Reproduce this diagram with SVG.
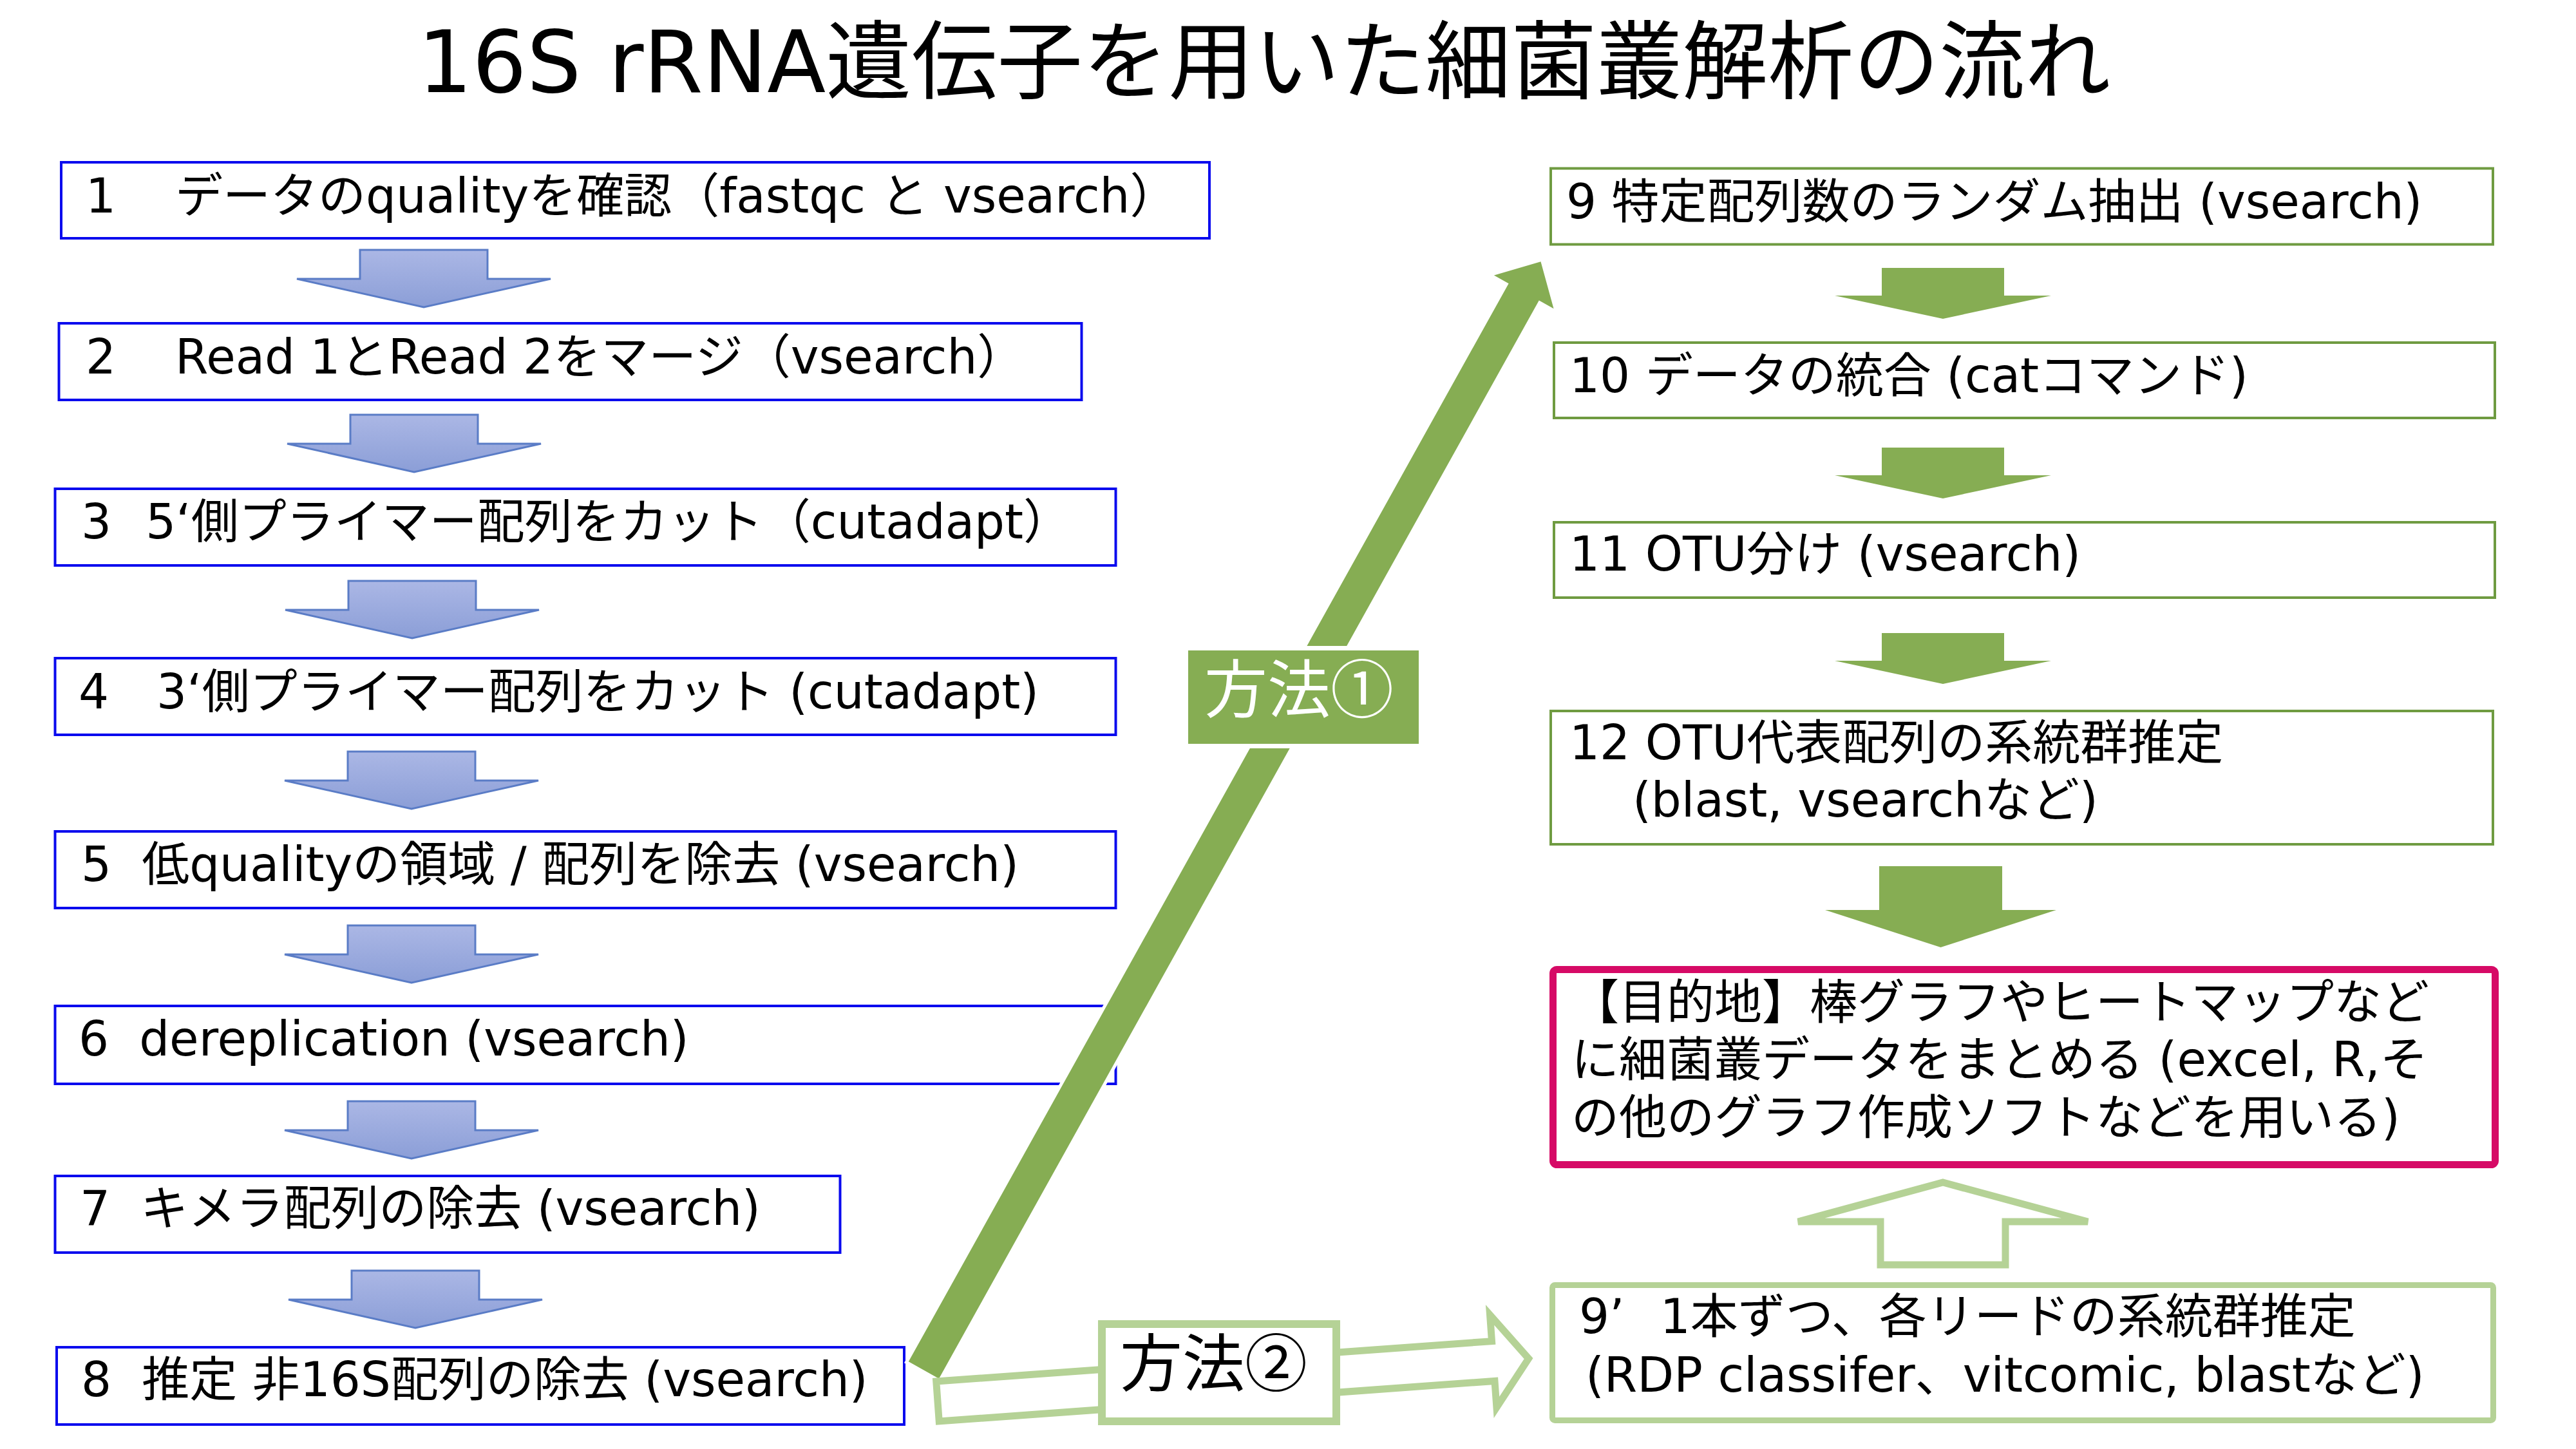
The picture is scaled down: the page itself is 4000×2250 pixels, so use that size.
<svg xmlns="http://www.w3.org/2000/svg" width="4000" height="2250" viewBox="0 0 4000 2250">
<defs>
<style>
text{font-family:'DejaVu Sans','Noto Sans CJK JP',sans-serif;font-size:74px;fill:#000}
.title{font-size:133px}
.lab{font-family:'Noto Sans CJK JP',sans-serif;font-size:97px}
.bbox{fill:#fff;stroke:#0a0aee;stroke-width:4}
.gbox{fill:#fff;stroke:#6f9b41;stroke-width:4}
.lgbox{fill:#fff;stroke:#b5d296;stroke-width:9}
.dest{fill:#fff;stroke:#d60a66;stroke-width:11}
.barrow{fill:url(#gb);stroke:#5a7cc6;stroke-width:3}
.garrow{fill:#86ad53}
</style>
<linearGradient id="gb" x1="0" y1="0" x2="0" y2="1"><stop offset="0" stop-color="#abb7e5"/><stop offset="1" stop-color="#8b9ed7"/></linearGradient>
<path id="ba" d="M-99,0H99V45H197L0,89L-197,45H-99Z"/>
<path id="ga" d="M-95,0H95V43H168L0,79L-168,43H-95Z"/>
</defs>
<rect width="4000" height="2250" fill="#fff"/>
<text id="title" class="title" x="1963" y="143" text-anchor="middle">16S rRNA遺伝子を用いた細菌叢解析の流れ</text>

<g id="n1"><rect class="bbox" x="95" y="252" width="1783" height="118"/><text x="133" y="330">1　<tspan dx="18">データのqualityを確認（fastqc と vsearch）</tspan></text></g>
<g id="n2"><rect class="bbox" x="91.5" y="502" width="1588" height="119"/><text x="133" y="580">2　<tspan dx="18">Read 1とRead 2をマージ（vsearch）</tspan></text></g>
<g id="n3"><rect class="bbox" x="85.5" y="759" width="1647" height="119"/><text x="126" y="836">3&#160;&#160;<tspan dx="6">5‘側プライマー配列をカット（cutadapt）</tspan></text></g>
<g id="n4"><rect class="bbox" x="85.5" y="1022" width="1647" height="119"/><text x="122" y="1100">4　3‘側プライマー配列をカット (cutadapt)</text></g>
<g id="n5"><rect class="bbox" x="85.5" y="1291" width="1647" height="119"/><text x="126" y="1368">5&#160;&#160;低qualityの領域 / 配列を除去 (vsearch)</text></g>
<g id="n6"><rect class="bbox" x="85.5" y="1562" width="1647" height="121"/><text x="122" y="1639">6&#160;&#160;dereplication (vsearch)</text></g>
<g id="n7"><rect class="bbox" x="85.5" y="1826" width="1219" height="119"/><text x="124" y="1902">7&#160;&#160;キメラ配列の除去 (vsearch)</text></g>
<g id="n8"><rect class="bbox" x="88" y="2092" width="1316" height="120"/><text x="126" y="2168">8&#160;&#160;推定 非16S配列の除去 (vsearch)</text></g>

<g id="n9"><rect class="gbox" x="2408" y="261.5" width="1463" height="118"/><text x="2432" y="339">9 特定配列数のランダム抽出 (vsearch)</text></g>
<g id="n10"><rect class="gbox" x="2413" y="532" width="1461" height="117"/><text x="2437" y="609">10 データの統合 (catコマンド)</text></g>
<g id="n11"><rect class="gbox" x="2413" y="811" width="1461" height="117"/><text x="2437" y="886">11 OTU分け (vsearch)</text></g>
<g id="n12"><rect class="gbox" x="2408" y="1104" width="1463" height="207"/><text x="2437" y="1179">12 OTU代表配列の系統群推定</text><text x="2535" y="1268">(blast, vsearchなど)</text></g>
<g id="goal"><rect class="dest" x="2411.5" y="1505.5" width="1463" height="303" rx="6"/><text x="2440" y="1582">【目的地】棒グラフやヒートマップなど</text><text x="2440" y="1671">に細菌叢データをまとめる (excel, R,そ</text><text x="2440" y="1761">の他のグラフ作成ソフトなどを用いる)</text></g>
<g id="n9b"><rect class="lgbox" x="2410.5" y="1995.5" width="1461" height="210" rx="4"/><text x="2452" y="2070">9’&#160;&#160;<tspan dx="8">1本ずつ、各リードの系統群推定</tspan></text><text x="2462" y="2161">(RDP classifer、vitcomic, blastなど)</text></g>

<g id="connectors">
<use href="#ba" class="barrow" x="658" y="388"/>
<use href="#ba" class="barrow" x="643" y="644"/>
<use href="#ba" class="barrow" x="640" y="902"/>
<use href="#ba" class="barrow" x="639" y="1167"/>
<use href="#ba" class="barrow" x="639" y="1437"/>
<use href="#ba" class="barrow" x="639" y="1710"/>
<use href="#ba" class="barrow" x="645" y="1973"/>
<use href="#ga" class="garrow" x="3017" y="416"/>
<use href="#ga" class="garrow" x="3017" y="695"/>
<use href="#ga" class="garrow" x="3017" y="983"/>
<path class="garrow" d="M2918,1345H3109V1413H3193L3013.5,1471L2834,1413H2918Z"/>
<path d="M3017,1836L3242,1897H3114V1964H2920V1897H2792Z" fill="#fff" stroke="#b5d296" stroke-width="11"/>
<path transform="translate(1434.4,2127.5) rotate(-60.9)" d="M0,-27H1916V-53L1970,0L1916,53V27H0Z" fill="#86ad53" stroke="#fff" stroke-width="10" paint-order="stroke"/>
<path transform="translate(1456,2176) rotate(-4.14)" d="M0,-31H865V-72L920,0L865,72V31H0Z" fill="#fff" stroke="#b5d296" stroke-width="11"/>
<g id="m1"><rect x="1845" y="1010" width="358" height="145" fill="#86ad53" stroke="#fff" stroke-width="14" paint-order="stroke"/><text class="lab" x="1870" y="1106" style="fill:#fff;font-size:98px">方法①</text></g>
<g id="m2"><rect x="1711" y="2056" width="364" height="151" fill="#fff" stroke="#b5d296" stroke-width="12"/><text class="lab" x="1739" y="2152">方法②</text></g>
</g>
</svg>
